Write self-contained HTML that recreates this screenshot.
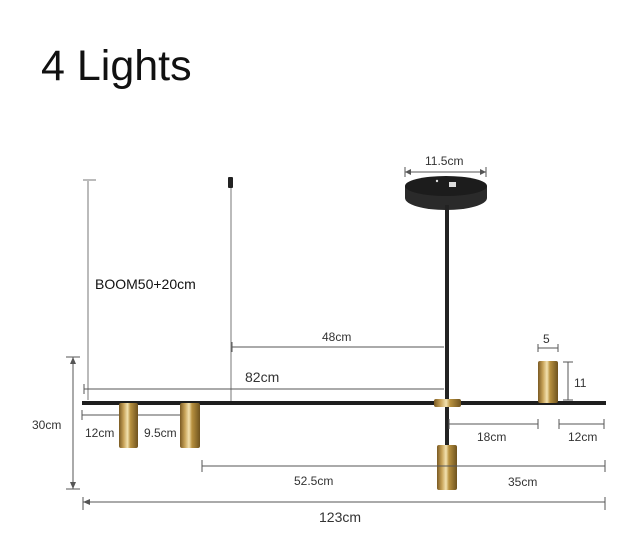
<!DOCTYPE html>
<html><head><meta charset="utf-8"><style>
html,body{margin:0;padding:0;background:#fff;}
svg{display:block;}
text{font-family:"Liberation Sans",sans-serif;fill:#333;}
</style></head><body>
<svg width="631" height="536" viewBox="0 0 631 536" xmlns="http://www.w3.org/2000/svg">
<defs>
<linearGradient id="g" x1="0" x2="1" y1="0" y2="0">
<stop offset="0" stop-color="#7a5a22"/><stop offset="0.25" stop-color="#c9a45a"/><stop offset="0.45" stop-color="#f3e2b0"/><stop offset="0.6" stop-color="#b8913f"/><stop offset="1" stop-color="#6e521e"/>
</linearGradient>
</defs>
<rect width="631" height="536" fill="#fff"/>
<text x="41" y="80" font-size="43" style="fill:#111">4 Lights</text>

<!-- wires -->
<g stroke="#777" stroke-width="1" fill="none">
<line x1="88" y1="181" x2="88" y2="400"/>
<line x1="83" y1="180" x2="96" y2="180"/>
<line x1="231" y1="185" x2="231" y2="403"/>
</g>
<rect x="228" y="177" width="5" height="11" rx="1" fill="#222"/>

<!-- canopy -->
<ellipse cx="446" cy="198" rx="41" ry="12" fill="#2a2a2a"/>
<rect x="405" y="186" width="82" height="12" fill="#2a2a2a"/>
<ellipse cx="446" cy="186" rx="41" ry="10" fill="#1c1c1c"/>
<rect x="449" y="182" width="7" height="5" fill="#ddd"/>
<circle cx="437" cy="181" r="1.2" fill="#ddd"/>
<rect x="445" y="205" width="4" height="245" fill="#222"/>

<!-- bar -->
<rect x="82" y="401" width="524" height="4" fill="#1e1e1e"/>
<rect x="434" y="399" width="27" height="8" rx="2" fill="url(#g)"/>

<!-- lamps -->
<rect x="119" y="403" width="19" height="45" rx="2" fill="url(#g)"/>
<rect x="180" y="403" width="20" height="45" rx="2" fill="url(#g)"/>
<rect x="538" y="361" width="20" height="42" rx="2" fill="url(#g)"/>
<rect x="437" y="445" width="20" height="45" rx="2" fill="url(#g)"/>

<!-- dimension lines -->
<g stroke="#555" stroke-width="1" fill="none">
<line x1="405" y1="172" x2="486" y2="172"/><line x1="405" y1="167" x2="405" y2="177"/><line x1="486" y1="167" x2="486" y2="177"/>
<line x1="232" y1="347" x2="444" y2="347"/><line x1="232" y1="342" x2="232" y2="352"/>
<line x1="84" y1="389" x2="444" y2="389"/><line x1="84" y1="384" x2="84" y2="394"/>
<line x1="73" y1="357" x2="73" y2="489"/><line x1="66" y1="357" x2="80" y2="357"/><line x1="66" y1="489" x2="80" y2="489"/>
<line x1="83" y1="502" x2="605" y2="502"/><line x1="83" y1="497" x2="83" y2="510"/><line x1="605" y1="497" x2="605" y2="510"/>
<line x1="202" y1="466" x2="605" y2="466"/><line x1="202" y1="460" x2="202" y2="472"/><line x1="605" y1="460" x2="605" y2="472"/>
<line x1="449" y1="424" x2="538" y2="424"/><line x1="449" y1="419" x2="449" y2="429"/><line x1="538" y1="419" x2="538" y2="429"/>
<line x1="559" y1="424" x2="604" y2="424"/><line x1="559" y1="419" x2="559" y2="429"/><line x1="604" y1="419" x2="604" y2="429"/>
<line x1="82" y1="415" x2="119" y2="415"/><line x1="82" y1="410" x2="82" y2="420"/>
<line x1="138" y1="415" x2="180" y2="415"/>
<line x1="538" y1="348" x2="558" y2="348"/><line x1="538" y1="344" x2="538" y2="352"/><line x1="558" y1="344" x2="558" y2="352"/>
<line x1="568" y1="362" x2="568" y2="400"/><line x1="563" y1="362" x2="573" y2="362"/><line x1="563" y1="400" x2="573" y2="400"/>
</g>
<g fill="#555"><polygon points="73,357 70,364 76,364"/><polygon points="73,489 70,482 76,482"/><polygon points="83,502 90,499 90,505"/><polygon points="405,172 411,169 411,175"/><polygon points="486,172 480,169 480,175"/></g>

<text x="95" y="289" font-size="14" style="fill:#111">BOOM50+20cm</text>
<g font-size="12">
<text x="322" y="341">48cm</text>
<text x="245" y="382" font-size="14">82cm</text>
<text x="32" y="429">30cm</text>
<text x="85" y="437">12cm</text>
<text x="144" y="437">9.5cm</text>
<text x="294" y="485">52.5cm</text>
<text x="508" y="486">35cm</text>
<text x="319" y="522" font-size="14">123cm</text>
<text x="477" y="441">18cm</text>
<text x="568" y="441">12cm</text>
<text x="425" y="165">11.5cm</text>
<text x="543" y="343">5</text>
<text x="574" y="387">11</text>
</g>
</svg>
</body></html>
